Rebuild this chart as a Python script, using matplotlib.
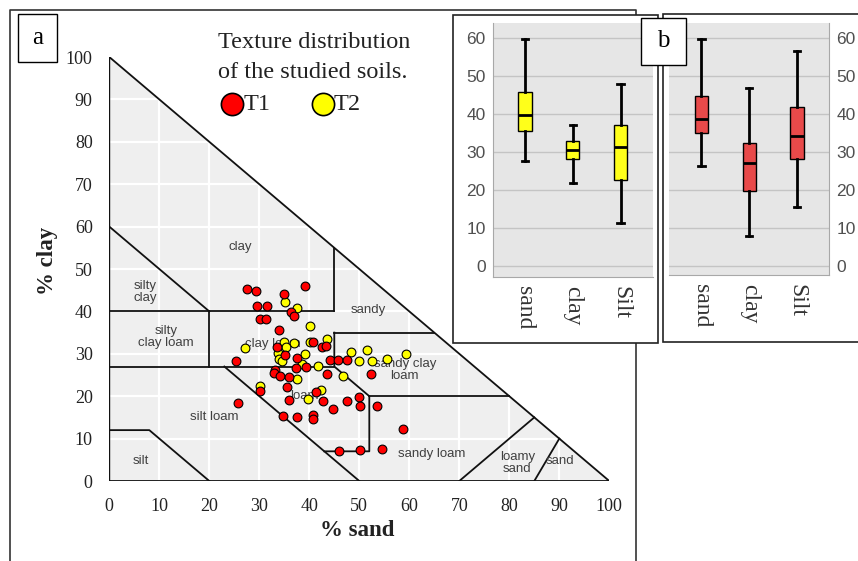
import matplotlib
matplotlib.use('agg')
import matplotlib.pyplot as plt
from matplotlib.patches import Polygon, Rectangle

# ---- data -------------------------------------------------------------
# soil samples (sand %, clay %) read from the texture triangle
t1_sand = [27.5, 29.3, 39.1, 34.9, 29.5, 31.6, 36.4, 36.9, 30.2, 31.4, 34.0, 40.8,
           42.5, 43.3, 33.5, 35.2, 37.5, 25.3, 44.2, 45.7, 47.5, 39.4, 37.3, 33.2,
           33.0, 34.1, 35.9, 43.5, 52.3, 35.6, 30.1, 25.8, 41.3, 35.9, 42.7, 47.5,
           49.9, 50.1, 53.6, 44.7, 34.8, 37.5, 40.7, 40.8, 58.8, 45.9, 50.1, 54.6]
t1_clay = [45.2, 44.9, 46.1, 44.2, 41.3, 41.3, 39.9, 38.9, 38.3, 38.3, 35.5, 32.8,
           31.7, 31.8, 31.7, 29.7, 29.1, 28.4, 28.5, 28.5, 28.5, 27.0, 26.7, 26.2,
           25.4, 24.8, 24.5, 25.2, 25.2, 22.2, 21.3, 18.3, 21.1, 19.2, 18.9, 18.9,
           19.7, 17.6, 17.6, 17.0, 15.3, 15.1, 15.6, 14.7, 12.2, 7.0, 7.3, 7.6]

t2_sand = [35.1, 37.6, 40.2, 43.5, 27.2, 35.0, 37.0, 35.3, 33.8, 33.9, 34.5, 39.1,
           41.7, 48.3, 51.5, 49.9, 52.5, 55.5, 59.3, 46.8, 37.5, 30.2, 42.3, 39.7,
           38.5, 40.2]
t2_clay = [42.1, 40.9, 36.6, 33.4, 31.3, 32.8, 32.6, 31.7, 30.3, 28.8, 28.2, 29.9,
           27.2, 30.4, 30.9, 28.2, 28.2, 28.8, 30.0, 24.8, 24.0, 22.4, 21.5, 19.4,
           27.6, 32.9]

# USDA class boundaries (sand %, clay %)
outline = [(0, 0), (100, 0), (0, 100)]
boundaries = [
    [(0, 60), (20, 40)],
    [(0, 40), (45, 40)],
    [(45, 40), (45, 55)],
    [(45, 35), (65, 35)],
    [(0, 27), (45, 27)],
    [(20, 27), (20, 40)],
    [(45, 35), (45, 27), (52, 20), (52, 7), (43, 7)],
    [(23, 27), (50, 0)],
    [(52, 20), (80, 20)],
    [(0, 12), (8, 12), (20, 0)],
    [(70, 0), (85, 15)],
    [(85, 0), (90, 10)],
]
class_names = ['clay', 'silty\nclay', 'silty\nclay loam', 'clay loam', 'sandy',
               'sandy clay\nloam', 'loam', 'silt loam', 'silt', 'sandy loam',
               'loamy\nsand', 'sand']
class_x = [26.1, 7.1, 11.3, 32.8, 51.8, 59.1, 39.1, 20.9, 6.3, 64.5, 81.6, 90.1]
class_y = [55.1, 44.6, 34.0, 32.2, 40.3, 26.2, 20.0, 15.2, 4.6, 6.4, 4.3, 4.6]

# box plot summaries: sand, clay, Silt
box_cats = ['sand', 'clay', 'Silt']
t2_whislo = [27.6, 21.7, 11.2]
t2_q1 = [35.5, 28.1, 22.6]
t2_med = [39.7, 30.4, 31.4]
t2_q3 = [45.7, 32.8, 37.0]
t2_whishi = [59.8, 37.2, 48.0]

t1_whislo = [26.1, 7.8, 15.5]
t1_q1 = [34.8, 19.6, 28.0]
t1_med = [38.5, 27.0, 34.1]
t1_q3 = [44.7, 32.4, 41.7]
t1_whishi = [59.5, 46.8, 56.5]

# ---- layout helpers -----------------------------------------------------
W, H = 858, 561
SERIF = 'Liberation Serif'
SANS = 'Liberation Sans'

fig = plt.figure(figsize=(W / 100, H / 100), dpi=100)


def px_axes(x0, y0, x1, y1, z):
    ax = fig.add_axes([x0 / W, 1 - y1 / H, (x1 - x0) / W, (y1 - y0) / H])
    ax.set_zorder(z)
    return ax


def overlay(z):
    ax = px_axes(0, 0, W, H, z)
    ax.set_xlim(0, W)
    ax.set_ylim(H, 0)
    ax.axis('off')
    return ax


# ---- panel a frame, title, legend --------------------------------------
bg = overlay(0)
bg.plot([10, 10, 636, 636], [H + 5, 10, 10, H + 5], color='#333333', lw=1.2)
bg.add_patch(Rectangle((18.3, 14), 39, 47.7, fc='white', ec='black', lw=1))
bg.text(38, 38, 'a', family=SERIF, fontsize=18, ha='center', va='center')
bg.text(314, 42, 'Texture distribution', family=SERIF, fontsize=17.5,
        ha='center', va='center', color='#222222')
bg.text(313, 72, 'of the studied soils.', family=SERIF, fontsize=17.5,
        ha='center', va='center', color='#222222')
bg.plot([232], [104], 'o', ms=16, mfc='#ff0000', mec='black', mew=1.2)
bg.plot([323], [104], 'o', ms=16, mfc='#ffff00', mec='black', mew=1.2)
bg.text(244, 104, 'T1', family=SERIF, fontsize=17.5, va='center', color='#222222')
bg.text(334, 104, 'T2', family=SERIF, fontsize=17.5, va='center', color='#222222')

# ---- texture triangle ---------------------------------------------------
ax = px_axes(109.3, 57, 609.3, 481, 1)
ax.patch.set_visible(False)
ax.set_xlim(0, 100)
ax.set_ylim(0, 100)
for s in ax.spines.values():
    s.set_visible(False)
ax.add_patch(Polygon(outline, closed=True, fc='#efefef', ec='none', zorder=0))
for v in range(10, 100, 10):
    ax.plot([v, v], [0, 100 - v], color='white', lw=1.6, zorder=1)
    ax.plot([0, 100 - v], [v, v], color='white', lw=1.6, zorder=1)
ax.add_patch(Polygon(outline, closed=True, fc='none', ec='#111111', lw=1.3, zorder=2))
for seg in boundaries:
    ax.plot([p[0] for p in seg], [p[1] for p in seg], color='#111111', lw=1.3,
            zorder=2)
for name, x, y in zip(class_names, class_x, class_y):
    ax.text(x, y, name, family=SANS, fontsize=9.5, color='#404040',
            ha='center', va='center', linespacing=0.95, zorder=3)

ax.scatter(t2_sand, t2_clay, s=40, c='#ffff00', edgecolors='black',
           linewidths=0.8, zorder=4, clip_on=False)
ax.scatter(t1_sand, t1_clay, s=40, c='#ff0000', edgecolors='black',
           linewidths=0.8, zorder=5, clip_on=False)

ax.set_xticks(range(0, 101, 10))
ax.set_yticks(range(0, 101, 10))
ax.tick_params(length=0, labelsize=13, labelcolor='#222222', pad=12)
for lab in ax.get_xticklabels() + ax.get_yticklabels():
    lab.set_family(SERIF)
bg.text(357, 530, '% sand', family=SERIF, fontsize=16.5, fontweight='bold',
        ha='center', va='center', color='#222222')
bg.text(48, 261, '% clay', family=SERIF, fontsize=16.5, fontweight='bold',
        ha='center', va='center', rotation=90, color='#222222')

# ---- panel b frames -----------------------------------------------------
mid = overlay(2)
mid.add_patch(Rectangle((452.7, 15), 205.6, 328.3, fc='white', ec='#222222', lw=1.2))
mid.add_patch(Rectangle((663.3, 14), 220, 327.7, fc='white', ec='#222222', lw=1.2))


def box_panel(rect, ylim, stats_lists, color, side):
    bx = px_axes(*rect, 3)
    whislo, q1, med, q3, whishi = stats_lists
    stats = [dict(label=c, whislo=a, q1=b, med=m, q3=d, whishi=e)
             for c, a, b, m, d, e in zip(box_cats, whislo, q1, med, q3, whishi)]
    bx.bxp(stats, positions=[1, 2, 3], widths=0.28, showfliers=False,
           patch_artist=True,
           boxprops=dict(facecolor=color, edgecolor='black', lw=1),
           medianprops=dict(color='black', lw=2),
           whiskerprops=dict(color='black', lw=2),
           capprops=dict(color='black', lw=2), capwidths=0.13)
    bx.set_facecolor('#e6e6e6')
    bx.set_xlim(0.33, 3.67)
    bx.set_ylim(*ylim)
    bx.set_yticks(range(0, 61, 10))
    bx.yaxis.grid(True, color='#c4c4c4', lw=1)
    bx.set_axisbelow(True)
    for k, s in bx.spines.items():
        s.set_color('#a8a8a8')
        s.set_visible(k in ('bottom', side))
    if side == 'right':
        bx.yaxis.tick_right()
    bx.tick_params(length=0)
    bx.tick_params(axis='y', labelsize=12.5, labelcolor='#505050', pad=5)
    bx.set_xticks([1, 2, 3])
    bx.set_xticklabels(box_cats, rotation=270, family=SERIF, fontsize=17,
                       color='#333333')
    bx.tick_params(axis='x', pad=6)
    for lab in bx.get_yticklabels():
        lab.set_family(SANS)
    return bx


box_panel((492.7, 22.7, 652.7, 277.3), (-3.06, 64.1),
          (t2_whislo, t2_q1, t2_med, t2_q3, t2_whishi), '#ffff1a', 'left')
box_panel((669.3, 22.7, 829.3, 275.3), (-2.5, 63.9),
          (t1_whislo, t1_q1, t1_med, t1_q3, t1_whishi), '#e84a4a', 'right')

top = overlay(4)
top.add_patch(Rectangle((641, 18.3), 44.7, 46.7, fc='white', ec='black', lw=1))
top.text(663.5, 41, 'b', family=SERIF, fontsize=18, ha='center', va='center')

fig.savefig('out.png', dpi=100)
